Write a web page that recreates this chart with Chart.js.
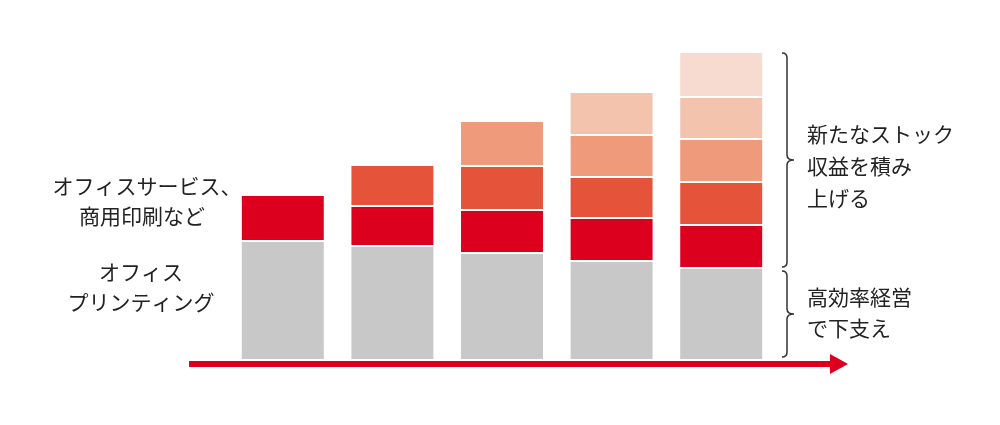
<!DOCTYPE html>
<html>
<head>
<meta charset="utf-8">
<script src="https://cdn.jsdelivr.net/npm/chart.js@4/dist/chart.umd.min.js"></script>
<style>
  html, body { margin: 0; padding: 0; background: #fff; }
  #wrap { width: 1000px; height: 425px; }
</style>
</head>
<body>
<div id="wrap"><canvas id="stackChart" width="1000" height="425"></canvas></div>
<script>
// one bar per stage, layers stacked from the bottom
const stages = ["1", "2", "3", "4", "5"];
const printing = [119, 114, 107, 99, 92];
const services = [46, 40, 43, 43, 43];
const stock1 = [null, 41, 44, 41, 43];
const stock2 = [null, null, 45, 42, 43];
const stock3 = [null, null, null, 43, 42];
const stock4 = [null, null, null, null, 45];

const leftLabels = [["オフィスサービス、", "商用印刷など"], ["オフィス", "プリンティング"]];
const rightLabels = [["新たなストック", "収益を積み", "上げる"], ["高効率経営", "で下支え"]];

const RED = "#dc001e";
const FONT = '21px "Noto Sans CJK JP", "Noto Sans", sans-serif';

function layer(data, color) {
    return {
        data, backgroundColor: color, borderColor: "#ffffff", borderWidth: 1,
        borderSkipped: false, categoryPercentage: 1, barPercentage: 0.766
    };
}

function drawBrace(ctx, x, y1, y2) {
    const mid = (y1 + y2) / 2;
    ctx.beginPath();
    ctx.moveTo(x - 5, y1);
    ctx.quadraticCurveTo(x, y1, x, y1 + 5);
    ctx.lineTo(x, mid - 5);
    ctx.quadraticCurveTo(x, mid, x + 7, mid);
    ctx.quadraticCurveTo(x, mid, x, mid + 5);
    ctx.lineTo(x, y2 - 5);
    ctx.quadraticCurveTo(x, y2, x - 5, y2);
    ctx.stroke();
}

const extras = {
    id: "extras",
    afterDraw(chart) {
        const ctx = chart.ctx;
        const y = chart.scales.y;
        const area = chart.chartArea;
        const last = stages.length - 1;
        const total = printing[last] + services[last] + stock1[last] + stock2[last] + stock3[last] + stock4[last];
        ctx.save();

        // arrow under the bars
        const ay = y.getPixelForValue(0) + 4;
        ctx.fillStyle = RED;
        ctx.fillRect(189, ay - 3, 643, 6);
        ctx.beginPath();
        ctx.moveTo(830, ay - 10);
        ctx.lineTo(848, ay);
        ctx.lineTo(830, ay + 10);
        ctx.closePath();
        ctx.fill();

        // braces on the right
        ctx.strokeStyle = "#333";
        ctx.lineWidth = 1.5;
        const bx = area.right + 11;
        drawBrace(ctx, bx, y.getPixelForValue(total) + 1, y.getPixelForValue(printing[last]) - 1);
        drawBrace(ctx, bx, y.getPixelForValue(printing[last]) + 3, y.getPixelForValue(0) - 3);

        // labels
        ctx.fillStyle = "#222";
        ctx.font = FONT;
        ctx.textBaseline = "middle";
        ctx.textAlign = "center";
        ctx.fillText(leftLabels[0][0], 147, 186);
        ctx.fillText(leftLabels[0][1], 142, 216);
        [272, 302].forEach((ly, i) => ctx.fillText(leftLabels[1][i], 141, ly));
        ctx.textAlign = "left";
        [134, 166, 198].forEach((ly, i) => ctx.fillText(rightLabels[0][i], 807, ly));
        [297, 328].forEach((ly, i) => ctx.fillText(rightLabels[1][i], 807, ly));
        ctx.restore();
    }
};

new Chart(document.getElementById("stackChart").getContext("2d"), {
    type: "bar",
    data: {
        labels: stages,
        datasets: [
            layer(printing, "#c8c8c8"),
            layer(services, RED),
            layer(stock1, "#e5533a"),
            layer(stock2, "#ef9a7b"),
            layer(stock3, "#f4c3ae"),
            layer(stock4, "#f8dbd0")
        ]
    },
    options: {
        responsive: false,
        animation: false,
        layout: { padding: { left: 228, right: 224, top: 40, bottom: 65 } },
        plugins: { legend: { display: false }, tooltip: { enabled: false } },
        scales: {
            x: { stacked: true, display: false },
            y: { stacked: true, display: false, min: 0, max: 320 }
        }
    },
    plugins: [extras]
});
</script>
</body>
</html>
